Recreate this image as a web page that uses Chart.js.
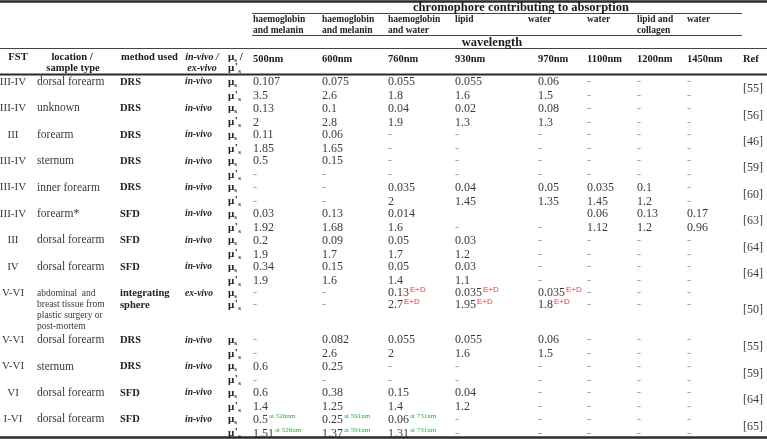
<!DOCTYPE html>
<html>
<head>
<meta charset="utf-8">
<script src="https://cdn.jsdelivr.net/npm/chart.js@4.4.1/dist/chart.umd.min.js"></script>
<style>
  html, body { margin: 0; padding: 0; background: #fff; }
  canvas { display: block; }
</style>
</head>
<body>
<canvas id="tableChart" width="767" height="439"></canvas>
<script>
// ---- table content ----
const chromophores = [["haemoglobin", "and melanin"], ["haemoglobin", "and melanin"], ["haemoglobin", "and water"],
  ["lipid"], ["water"], ["water"], ["lipid and", "collagen"], ["water"]];
const wavelengths = ["500nm", "600nm", "760nm", "930nm", "970nm", "1100nm", "1200nm", "1450nm"];

const fst = ["III-IV", "III-IV", "III", "III-IV", "III-IV", "III-IV", "III", "IV", "V-VI", "V-VI", "V-VI", "VI", "I-VI"];
const locations = [["dorsal forearm"], ["unknown"], ["forearm"], ["sternum"], ["inner forearm"], ["forearm*"],
  ["dorsal forearm"], ["dorsal forearm"], ["abdominal  and", "breast tissue from", "plastic surgery or", "post-mortem"],
  ["dorsal forearm"], ["sternum"], ["dorsal forearm"], ["dorsal forearm"]];
const methods = [["DRS"], ["DRS"], ["DRS"], ["DRS"], ["DRS"], ["SFD"], ["SFD"], ["SFD"], ["integrating", "sphere"],
  ["DRS"], ["DRS"], ["SFD"], ["SFD"]];
const modes = ["in-vivo", "in-vivo", "in-vivo", "in-vivo", "in-vivo", "in-vivo", "in-vivo", "in-vivo", "ex-vivo",
  "in-vivo", "in-vivo", "in-vivo", "in-vivo"];

// "value^note" -> note is drawn as superscript
const muS = [
  ["0.107", "0.075", "0.055", "0.055", "0.06", "-", "-", "-"],
  ["0.13", "0.1", "0.04", "0.02", "0.08", "-", "-", "-"],
  ["0.11", "0.06", "-", "-", "-", "-", "-", "-"],
  ["0.5", "0.15", "-", "-", "-", "-", "-", "-"],
  ["-", "-", "0.035", "0.04", "0.05", "0.035", "0.1", "-"],
  ["0.03", "0.13", "0.014", "", "", "0.06", "0.13", "0.17"],
  ["0.2", "0.09", "0.05", "0.03", "-", "-", "-", "-"],
  ["0.34", "0.15", "0.05", "0.03", "-", "-", "-", "-"],
  ["-", "-", "0.13^E+D", "0.035^E+D", "0.035^E+D", "-", "-", "-"],
  ["-", "0.082", "0.055", "0.055", "0.06", "-", "-", "-"],
  ["0.6", "0.25", "-", "-", "-", "-", "-", "-"],
  ["0.6", "0.38", "0.15", "0.04", "-", "-", "-", "-"],
  ["0.5^at 526nm", "0.25^at 591nm", "0.06^at 731nm", "-", "-", "-", "-", "-"]
];
const muSPrime = [
  ["3.5", "2.6", "1.8", "1.6", "1.5", "-", "-", "-"],
  ["2", "2.8", "1.9", "1.3", "1.3", "-", "-", "-"],
  ["1.85", "1.65", "-", "-", "-", "-", "-", "-"],
  ["-", "-", "-", "-", "-", "-", "-", "-"],
  ["-", "-", "2", "1.45", "1.35", "1.45", "1.2", "-"],
  ["1.92", "1.68", "1.6", "-", "-", "1.12", "1.2", "0.96"],
  ["1.9", "1.7", "1.7", "1.2", "-", "-", "-", "-"],
  ["1.9", "1.6", "1.4", "1.1", "-", "-", "-", "-"],
  ["-", "-", "2.7^E+D", "1.95^E+D", "1.8^E+D", "-", "-", "-"],
  ["-", "2.6", "2", "1.6", "1.5", "-", "-", "-"],
  ["-", "-", "-", "-", "-", "-", "-", "-"],
  ["1.4", "1.25", "1.4", "1.2", "-", "-", "-", "-"],
  ["1.51^at 526nm", "1.37^at 591nm", "1.31^at 731nm", "-", "-", "-", "-", "-"]
];
const refs = ["[55]", "[56]", "[46]", "[59]", "[60]", "[63]", "[64]", "[64]", "[50]", "[55]", "[59]", "[64]", "[65]"];

// ---- layout (in canvas units, mapped through the chart scales) ----
const W = 767, H = 439;
const colX = { fst: 13, loc: 37, method: 120, mode: 185, mu: 228, ref: 743 };
const valueX = [253, 322, 388, 455, 538, 587, 637, 687];
const chromoX = [253, 322, 388, 455, 528, 587, 637, 687];
const firstRowY = 82;
const serif = "'Liberation Serif', 'Times New Roman', serif";

const styles = {
  title:   { font: "bold 12.5px " + serif, color: "#1a1a1a", align: "center" },
  chromo:  { font: "bold 9.5px " + serif, color: "#222", align: "left" },
  head:    { font: "bold 10.5px " + serif, color: "#1a1a1a", align: "left" },
  headC:   { font: "bold 10.5px " + serif, color: "#1a1a1a", align: "center" },
  headI:   { font: "italic bold 10px " + serif, color: "#1a1a1a", align: "center" },
  fst:     { font: "11px " + serif, color: "#3a3a3a", align: "center" },
  loc:     { font: "11.5px " + serif, color: "#3a3a3a", align: "left" },
  locSm:   { font: "9.5px " + serif, color: "#3a3a3a", align: "left" },
  method:  { font: "bold 10.5px " + serif, color: "#222", align: "left" },
  mode:    { font: "italic bold 9.5px " + serif, color: "#222", align: "left" },
  value:   { font: "12px " + serif, color: "#3a3a3a", align: "left" },
  ref:     { font: "12px " + serif, color: "#3a3a3a", align: "left" }
};

// build text anchors
const cells = [];
function cell(x, y, text, kind) { cells.push({ x: x, y: y, text: text, kind: kind }); }

cell(521, 7.5, "chromophore contributing to absorption", "title");
chromophores.forEach((lines, i) => lines.forEach((t, k) => cell(chromoX[i], 20 + k * 10.5, t, "chromo")));
cell(492, 43, "wavelength", "title");

cell(18, 57, "FST", "headC");
cell(72, 57, "location /", "headC");
cell(73, 68, "sample type", "headC");
cell(121, 57, "method used", "head");
cell(202, 57, "in-vivo /", "headI");
cell(202, 68, "ex-vivo", "headI");
cell(colX.mu, 57, "μs /", "mu");
cell(colX.mu, 68, "μ's", "mu");
wavelengths.forEach((w, i) => cell(valueX[i], 59, w, "head"));
cell(colX.ref, 59, "Ref", "head");

let y = firstRowY;
fst.forEach((f, r) => {
  const tall = locations[r].length > 2;
  const sub = tall ? 12 : 14;
  cell(colX.fst, y, f, "fst");
  locations[r].forEach((t, k) => cell(colX.loc, y + k * 11, t, tall ? "locSm" : "loc"));
  methods[r].forEach((t, k) => cell(colX.method, y + k * 12, t, "method"));
  cell(colX.mode, y, modes[r], "mode");
  cell(colX.mu, y, "μs", "mu");
  cell(colX.mu, y + sub, "μ's", "mu");
  muS[r].forEach((v, c) => { if (v) cell(valueX[c], y, v, "value"); });
  muSPrime[r].forEach((v, c) => { if (v) cell(valueX[c], y + sub, v, "value"); });
  cell(colX.ref, tall ? y + 17 : y + 7, refs[r], "ref");
  y += tall ? 47 : 26.4;
});

const rules = [
  { x0: 0, x1: W, y: 1.5, w: 2.5, c: "#2a2a2a" },
  { x0: 252, x1: 742, y: 13.5, w: 1.2, c: "#444" },
  { x0: 252, x1: 742, y: 35.5, w: 1.2, c: "#444" },
  { x0: 0, x1: W, y: 48.5, w: 1.2, c: "#444" },
  { x0: 0, x1: W, y: 74.5, w: 1.8, c: "#2a2a2a" },
  { x0: 0, x1: W, y: 437.5, w: 2.5, c: "#2a2a2a" }
];

const rulePlugin = {
  id: "rules",
  beforeDatasetsDraw(chart) {
    const { ctx, scales: { x, y } } = chart;
    ctx.save();
    rules.forEach(r => {
      ctx.strokeStyle = r.c;
      ctx.lineWidth = r.w;
      ctx.beginPath();
      ctx.moveTo(x.getPixelForValue(r.x0), y.getPixelForValue(r.y));
      ctx.lineTo(x.getPixelForValue(r.x1), y.getPixelForValue(r.y));
      ctx.stroke();
    });
    ctx.restore();
  }
};

// μs / μ's with a small subscript s
function drawMu(ctx, text, px, py) {
  const main = "bold 11px " + serif;
  ctx.font = main;
  ctx.fillStyle = "#222";
  ctx.textAlign = "left";
  let cx = px;
  ctx.fillText("μ", cx, py);
  cx += ctx.measureText("μ").width;
  if (text.indexOf("'") >= 0) { ctx.fillText("'", cx + 0.5, py - 1); cx += ctx.measureText("'").width + 1; }
  ctx.font = "bold 7px " + serif;
  ctx.fillText("s", cx, py + 3);
  cx += ctx.measureText("s").width;
  if (text.endsWith("/")) { ctx.font = main; ctx.fillText(" /", cx, py); }
}

const textPlugin = {
  id: "cellText",
  afterDatasetsDraw(chart) {
    const ctx = chart.ctx;
    const meta = chart.getDatasetMeta(0);
    ctx.save();
    ctx.textBaseline = "middle";
    meta.data.forEach((pt, i) => {
      const c = chart.data.datasets[0].data[i];
      if (c.kind === "mu") { drawMu(ctx, c.text, pt.x, pt.y); return; }
      const st = styles[c.kind];
      const parts = c.text.split("^");
      ctx.font = st.font;
      ctx.textAlign = st.align;
      ctx.fillStyle = (c.kind === "value" && parts[0] === "-") ? "#9a9a9a" : st.color;
      ctx.fillText(parts[0], pt.x, pt.y);
      if (parts[1]) {
        const wv = ctx.measureText(parts[0]).width;
        const isED = parts[1] === "E+D";
        ctx.font = isED ? "8px 'Liberation Sans', Arial, sans-serif" : "7px " + serif;
        ctx.fillStyle = isED ? "#d9434a" : "#3fa34a";
        ctx.textAlign = "left";
        ctx.fillText(parts[1], pt.x + wv + 1, pt.y - 3);
      }
    });
    ctx.restore();
  }
};

new Chart(document.getElementById("tableChart"), {
  type: "scatter",
  data: { datasets: [{ data: cells, pointRadius: 0, pointHoverRadius: 0 }] },
  options: {
    responsive: false,
    animation: false,
    events: [],
    layout: { padding: 0 },
    plugins: { legend: { display: false }, tooltip: { enabled: false } },
    scales: {
      x: { type: "linear", display: false, min: 0, max: W },
      y: { type: "linear", display: false, min: 0, max: H, reverse: true }
    }
  },
  plugins: [rulePlugin, textPlugin]
});
</script>
</body>
</html>
